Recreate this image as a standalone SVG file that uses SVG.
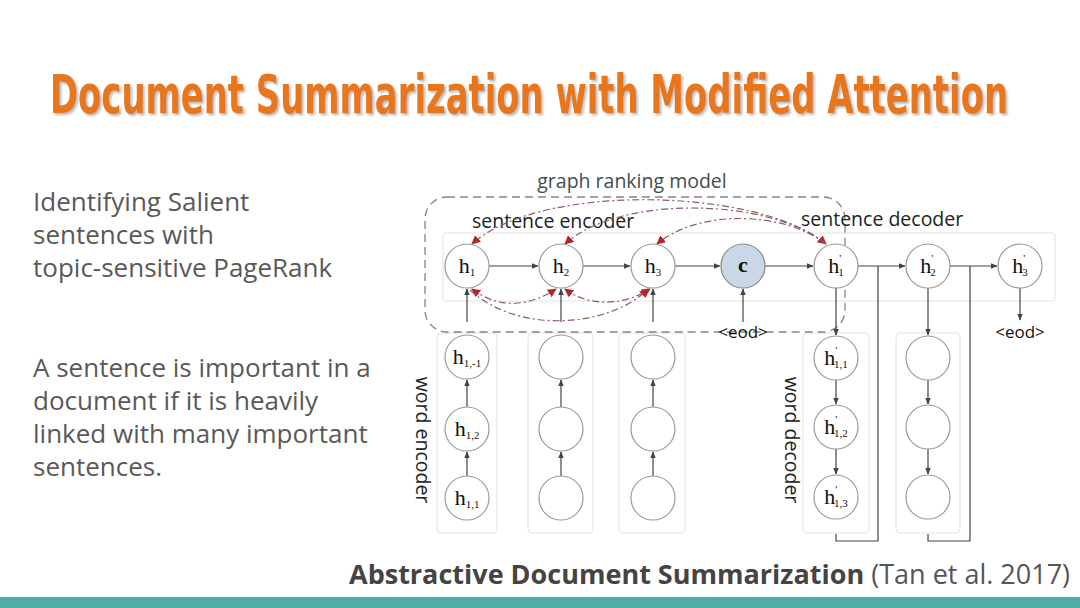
<svg xmlns="http://www.w3.org/2000/svg" width="1080" height="608" viewBox="0 0 1080 608">
<defs>
<style>
.node{fill:#fff;stroke:#9a9a9a;stroke-width:1.2}
.hl{font-family:"Liberation Serif",serif;font-size:22px;fill:#111;text-anchor:middle}
.sub{font-size:11px}
.conn{stroke:#444;stroke-width:1.2;fill:none}
.red{stroke:#8e5c5c;stroke-width:1.2;fill:none;stroke-dasharray:7 3 2 3}
.lbl{font-family:"Open Sans","DejaVu Sans",sans-serif;font-size:19.5px;fill:#222}
.body{font-family:"Open Sans","DejaVu Sans",sans-serif;font-size:26px;fill:#595959}
.box{fill:none;stroke:#e2e2e2;stroke-width:1}
.eod{font-family:"Open Sans","DejaVu Sans",sans-serif;font-size:17px;fill:#111;text-anchor:middle}
</style>
<filter id="sh" x="-5%" y="-40%" width="110%" height="190%">
<feDropShadow dx="2" dy="2" stdDeviation="1.2" flood-color="#777" flood-opacity="0.5"/>
</filter>
<marker id="ar" viewBox="0 0 10 10" refX="9" refY="5" markerWidth="7" markerHeight="7" orient="auto" markerUnits="userSpaceOnUse">
<path d="M0,1 L10,5 L0,9 z" fill="#444"/>
</marker>
<marker id="rr" viewBox="0 0 10 10" refX="9" refY="5" markerWidth="9" markerHeight="9" orient="auto-start-reverse" markerUnits="userSpaceOnUse">
<path d="M0,0 L10,5 L0,10 z" fill="#b3262a"/>
</marker>
</defs>
<rect width="1080" height="608" fill="#fff"/>

<g id="title">
<text x="50" y="113" font-family="DejaVu Sans,sans-serif" font-stretch="condensed" font-weight="bold" font-size="53" textLength="958" lengthAdjust="spacingAndGlyphs" fill="#e8761c" filter="url(#sh)">Document Summarization with Modified Attention</text>
</g>

<g id="left-text">
<text class="body" x="33" y="211">Identifying Salient</text>
<text class="body" x="33" y="244">sentences with</text>
<text class="body" x="33" y="277">topic-sensitive PageRank</text>
<text class="body" x="33" y="377">A sentence is important in a</text>
<text class="body" x="33" y="410">document if it is heavily</text>
<text class="body" x="33" y="443">linked with many important</text>
<text class="body" x="33" y="476">sentences.</text>
</g>

<g id="frames">
<rect class="box" x="443" y="233" width="612" height="68" rx="3"/>
<rect class="box" x="437" y="333" width="60" height="200" rx="4"/>
<rect class="box" x="528" y="333" width="65" height="200" rx="4"/>
<rect class="box" x="619" y="333" width="66" height="200" rx="4"/>
<rect class="box" x="803" y="333" width="66" height="200" rx="4"/>
<rect class="box" x="896" y="333" width="64" height="200" rx="4"/>
</g>

<g id="graph-ranking-model">
<rect x="425" y="197" width="420" height="135" rx="22" fill="none" stroke="#858585" stroke-width="1.3" stroke-dasharray="8 5"/>
<text x="632" y="188" text-anchor="middle" font-family="Open Sans,DejaVu Sans,sans-serif" font-size="19.5" fill="#3f4f4f">graph ranking model</text>
</g>

<g id="labels">
<text class="lbl" x="472" y="228">sentence encoder</text>
<text class="lbl" x="801" y="226">sentence decoder</text>
<text class="lbl" transform="translate(416,440) rotate(90)" text-anchor="middle" font-size="20.5">word encoder</text>
<text class="lbl" transform="translate(785,440) rotate(90)" text-anchor="middle" font-size="20.5">word decoder</text>
<text class="eod" x="743" y="338">&lt;eod&gt;</text>
<text class="eod" x="1020" y="338">&lt;eod&gt;</text>
</g>

<g id="connectors">
<line class="conn" x1="489" y1="266" x2="538" y2="266" marker-end="url(#ar)"/>
<line class="conn" x1="583" y1="266" x2="630" y2="266" marker-end="url(#ar)"/>
<line class="conn" x1="675" y1="266" x2="720" y2="266" marker-end="url(#ar)"/>
<line class="conn" x1="765" y1="266" x2="813" y2="266" marker-end="url(#ar)"/>
<line class="conn" x1="858" y1="266" x2="905" y2="266" marker-end="url(#ar)"/>
<line class="conn" x1="950" y1="266" x2="997" y2="266" marker-end="url(#ar)"/>
<line class="conn" x1="467" y1="322" x2="467" y2="289" marker-end="url(#ar)"/>
<line class="conn" x1="561" y1="322" x2="561" y2="289" marker-end="url(#ar)"/>
<line class="conn" x1="653" y1="322" x2="653" y2="289" marker-end="url(#ar)"/>
<line class="conn" x1="743" y1="322" x2="743" y2="289" marker-end="url(#ar)"/>
<line class="conn" x1="1020" y1="288" x2="1020" y2="320" marker-end="url(#ar)"/>
<line class="conn" x1="467" y1="476" x2="467" y2="452" marker-end="url(#ar)"/>
<line class="conn" x1="467" y1="407" x2="467" y2="380" marker-end="url(#ar)"/>
<line class="conn" x1="561" y1="476" x2="561" y2="452" marker-end="url(#ar)"/>
<line class="conn" x1="561" y1="407" x2="561" y2="380" marker-end="url(#ar)"/>
<line class="conn" x1="653" y1="476" x2="653" y2="452" marker-end="url(#ar)"/>
<line class="conn" x1="653" y1="407" x2="653" y2="380" marker-end="url(#ar)"/>
<line class="conn" x1="836" y1="288" x2="836" y2="335" marker-end="url(#ar)"/>
<line class="conn" x1="836" y1="380" x2="836" y2="404" marker-end="url(#ar)"/>
<line class="conn" x1="836" y1="449" x2="836" y2="474" marker-end="url(#ar)"/>
<line class="conn" x1="928" y1="288" x2="928" y2="335" marker-end="url(#ar)"/>
<line class="conn" x1="928" y1="380" x2="928" y2="404" marker-end="url(#ar)"/>
<line class="conn" x1="928" y1="449" x2="928" y2="474" marker-end="url(#ar)"/>
<path class="conn" d="M836 534 V541 H878 V266"/>
<path class="conn" d="M928 534 V541 H970 V266"/>
<path class="red" d="M826 244 C 760 188, 540 182, 472 244" marker-start="url(#rr)" marker-end="url(#rr)"/>
<path class="red" d="M826 244 C 770 198, 620 194, 565 244" marker-end="url(#rr)"/>
<path class="red" d="M826 244 C 785 212, 700 208, 657 244" marker-end="url(#rr)"/>
<path class="red" d="M472 289 C 500 310, 530 306, 556 289" marker-start="url(#rr)" marker-end="url(#rr)"/>
<path class="red" d="M470 290 C 520 336, 612 326, 648 289" marker-end="url(#rr)"/>
<path class="red" d="M565 289 C 590 308, 625 305, 650 289" marker-start="url(#rr)" marker-end="url(#rr)"/>
</g>

<g id="h1"><circle class="node" cx="467" cy="266" r="22"/><text class="hl" x="467" y="273">h<tspan class="sub" dy="3">1</tspan></text></g>
<g id="h2"><circle class="node" cx="561" cy="266" r="22"/><text class="hl" x="561" y="273">h<tspan class="sub" dy="3">2</tspan></text></g>
<g id="h3"><circle class="node" cx="653" cy="266" r="22"/><text class="hl" x="653" y="273">h<tspan class="sub" dy="3">3</tspan></text></g>
<g id="c"><circle cx="743" cy="266" r="22" fill="#c9d7e6" stroke="#8a8a8a" stroke-width="1.2"/><text class="hl" x="743" y="272" font-weight="bold" fill="#1f3350">c</text></g>
<g id="h1p"><circle class="node" cx="836" cy="266" r="22"/><text class="hl" x="836" y="273">h<tspan class="sub" dy="-11">'</tspan><tspan class="sub" dx="-3" dy="14">1</tspan></text></g>
<g id="h2p"><circle class="node" cx="928" cy="266" r="22"/><text class="hl" x="928" y="273">h<tspan class="sub" dy="-11">'</tspan><tspan class="sub" dx="-3" dy="14">2</tspan></text></g>
<g id="h3p"><circle class="node" cx="1020" cy="266" r="22"/><text class="hl" x="1020" y="273">h<tspan class="sub" dy="-11">'</tspan><tspan class="sub" dx="-3" dy="14">3</tspan></text></g>

<g id="h1n"><circle class="node" cx="467" cy="357" r="22"/><text class="hl" x="467" y="364">h<tspan class="sub" dy="3">1,-1</tspan></text></g>
<g id="h12"><circle class="node" cx="467" cy="429" r="22"/><text class="hl" x="467" y="436">h<tspan class="sub" dy="3">1,2</tspan></text></g>
<g id="h11"><circle class="node" cx="467" cy="498" r="22"/><text class="hl" x="467" y="505">h<tspan class="sub" dy="3">1,1</tspan></text></g>
<g id="e2a"><circle class="node" cx="561" cy="357" r="22"/></g>
<g id="e2b"><circle class="node" cx="561" cy="429" r="22"/></g>
<g id="e2c"><circle class="node" cx="561" cy="498" r="22"/></g>
<g id="e3a"><circle class="node" cx="653" cy="357" r="22"/></g>
<g id="e3b"><circle class="node" cx="653" cy="429" r="22"/></g>
<g id="e3c"><circle class="node" cx="653" cy="498" r="22"/></g>

<g id="d11"><circle class="node" cx="836" cy="358" r="22"/><text class="hl" x="836" y="365">h<tspan class="sub" dy="-11">'</tspan><tspan class="sub" dx="-3" dy="14">1,1</tspan></text></g>
<g id="d12"><circle class="node" cx="836" cy="427" r="22"/><text class="hl" x="836" y="434">h<tspan class="sub" dy="-11">'</tspan><tspan class="sub" dx="-3" dy="14">1,2</tspan></text></g>
<g id="d13"><circle class="node" cx="836" cy="497" r="22"/><text class="hl" x="836" y="504">h<tspan class="sub" dy="-11">'</tspan><tspan class="sub" dx="-3" dy="14">1,3</tspan></text></g>
<g id="d2a"><circle class="node" cx="928" cy="358" r="22"/></g>
<g id="d2b"><circle class="node" cx="928" cy="427" r="22"/></g>
<g id="d2c"><circle class="node" cx="928" cy="497" r="22"/></g>

<g id="citation">
<text x="349" y="584" font-family="Open Sans,DejaVu Sans,sans-serif" font-size="27" fill="#444"><tspan font-weight="bold">Abstractive Document Summarization</tspan><tspan fill="#555"> (Tan et al. 2017)</tspan></text>
</g>
<rect id="bar" x="0" y="597" width="1080" height="11" fill="#4fada4"/>
</svg>
